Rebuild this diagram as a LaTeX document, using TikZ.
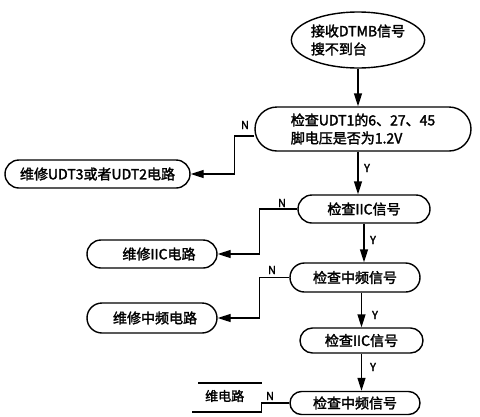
\documentclass[tikz,border=0pt]{standalone}
\usepackage{fontspec}
\setmainfont{Noto Sans CJK SC}[AutoFakeBold=2]
\usetikzlibrary{shapes.misc,shapes.geometric,arrows.meta}
\begin{document}
\begin{tikzpicture}[x=1pt,y=-1pt,
  box/.style={rounded rectangle, draw, line width=1.4pt, inner sep=0pt,
    font=\fontsize{14}{18}\selectfont\bfseries, align=left},
  arr/.style={line width=1.4pt, -{Triangle[length=13pt,width=8pt]}},
  ln/.style={line width=1.4pt},
  lbl/.style={font=\fontsize{11}{12}\selectfont\bfseries, inner sep=0pt}
]
\useasboundingbox (0,0) rectangle (480,416);
\fill[white] (0,0) rectangle (480,416);

% start ellipse
\node[ellipse, draw, line width=1.4pt, minimum width=122pt, minimum height=56pt,
  inner sep=0pt, align=left, font=\fontsize{14}{18}\selectfont\bfseries] (e) at (358,40)
  {接收DTMB信号\\搜不到台};

% check boxes
\node[box, minimum width=216pt, minimum height=44pt] (b1) at (363,129)
  {检查UDT1的6、27、45\\脚电压是否为1.2V};
\node[box, minimum width=132pt, minimum height=28pt] (b2) at (364,209) {检查IIC信号};
\node[box, minimum width=130pt, minimum height=29pt] (b3) at (355,277.5) {检查中频信号};
\node[box, minimum width=123pt, minimum height=25pt] (b4) at (361.5,340.5) {检查IIC信号};
\node[box, minimum width=130pt, minimum height=23pt] (b5) at (355,403) {检查中频信号};

% repair boxes
\node[box, minimum width=185pt, minimum height=28pt] (r1) at (97.5,174) {维修UDT3或者UDT2电路};
\node[box, minimum width=130pt, minimum height=28pt] (r2) at (152,254) {\hspace{14pt}维修IIC电路};
\node[box, minimum width=130pt, minimum height=30pt] (r3) at (152,318) {\hspace{6pt}维修中频电路};

% partial (cropped) repair box at bottom
\coordinate (p1) at (198,383);
\coordinate (p2) at (262,383);
\draw[ln] (p1) -- (p2);
\node[anchor=west, inner sep=0pt, font=\fontsize{13}{14}\selectfont\bfseries] (pt) at (205,396) {维电路};

% Y connectors
\draw[arr] (e.south) -- (e.south |- b1.north);
\draw[arr] (b1.south -| e.south) -- (e.south |- b2.north);
\draw[arr] (b2.south) -- (b2.south |- b3.north);
\draw[arr] (b3.south -| b4.north) -- (b4.north);
\draw[arr] (b4.south) -- (b4.south |- b5.north);

% N connectors
\draw[arr] ([yshift=-7pt]b1.west) -- ++(-20,0) |- (r1.east);
\draw[arr] (b2.west) -- ++(-38,0) |- (r2.east);
\draw[arr] (b3.west) -- ++(-30,0) |- (r3.east);
\coordinate (q) at (192,412);
\draw[ln] (b5.west) -- ++(-28,0) |- (q);

% labels
\node[lbl] (n1) at (245,125) {N};
\node[lbl] (y1) at (367,168) {Y};
\node[lbl] (n2) at (282,203) {N};
\node[lbl] (y2) at (373,240) {Y};
\node[lbl] (n3) at (272,270) {N};
\node[lbl] (y3) at (375,315) {Y};
\node[lbl] (y4) at (373,367) {Y};
\node[lbl] (n5) at (270,396) {N};
\end{tikzpicture}
\end{document}
